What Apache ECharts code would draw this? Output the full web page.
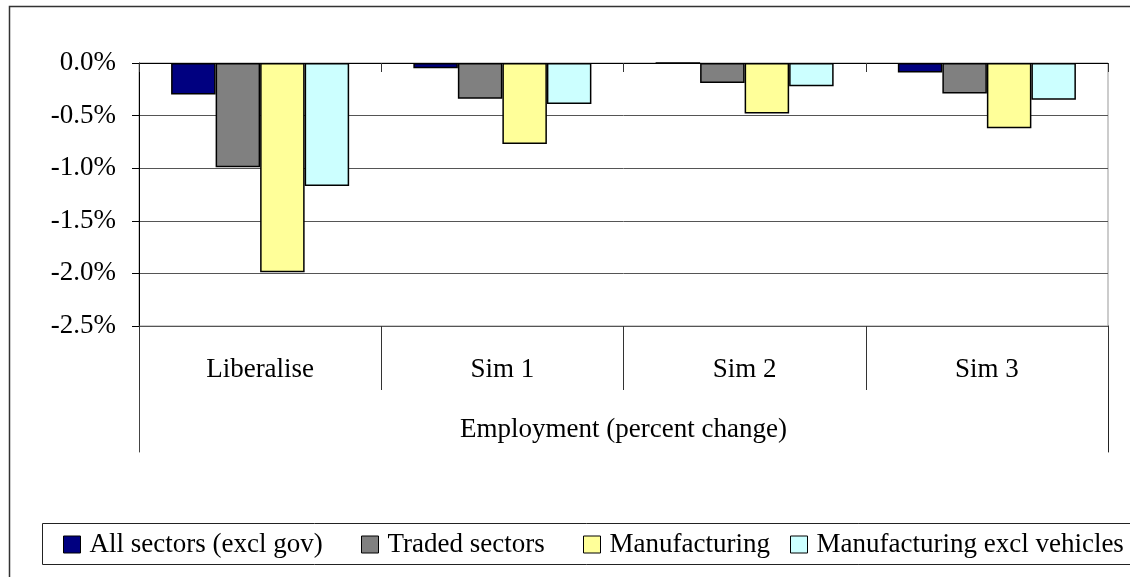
<!DOCTYPE html>
<html>
<head>
<meta charset="utf-8">
<title>Employment (percent change)</title>
<script src="https://cdn.jsdelivr.net/npm/echarts@6/dist/echarts.min.js"></script>
<style>
  html, body { margin: 0; padding: 0; background: #fff; }
  #chart { width: 1130px; height: 577px; }
</style>
</head>
<body>
<div id="chart"></div>
<script>
// data
var categories = ['Liberalise', 'Sim 1', 'Sim 2', 'Sim 3'];
var groupLabel = 'Employment (percent change)';
var seriesNames = ['All sectors (excl gov)', 'Traded sectors', 'Manufacturing', 'Manufacturing excl vehicles'];
var allSectors = [-0.30, -0.05, 0, -0.09];
var tradedSectors = [-0.99, -0.34, -0.19, -0.29];
var manufacturing = [-1.99, -0.77, -0.48, -0.62];
var mfgExclVehicles = [-1.17, -0.39, -0.22, -0.35];

var colors = ['#000080', '#808080', '#ffff99', '#ccffff'];
var seriesData = [allSectors, tradedSectors, manufacturing, mfgExclVehicles];
var legendLeft = [63, 361, 583, 790];
var font = "'Liberation Serif', 'Times New Roman', serif";

var chart = echarts.init(document.getElementById('chart'));

var series = seriesNames.map(function (name, i) {
  return {
    name: name,
    type: 'bar',
    xAxisIndex: 0,
    yAxisIndex: 0,
    data: seriesData[i],
    barGap: '0%',
    barCategoryGap: '26.5%',
    itemStyle: { color: colors[i], borderColor: '#000', borderWidth: 1.5 },
    emphasis: { disabled: true },
    animation: false
  };
});

// one legend per entry so each sits where Excel put it
var legends = seriesNames.map(function (name, i) {
  return {
    data: [{ name: name, icon: 'rect' }],
    left: legendLeft[i],
    top: 531,
    padding: 0,
    itemWidth: 17,
    itemHeight: 17,
    selectedMode: false,
    itemStyle: { borderColor: '#000', borderWidth: 1 },
    textStyle: { fontFamily: font, fontSize: 27, color: '#000', padding: [0, 0, 0, 4] }
  };
});

var option = {
  animation: false,
  textStyle: { fontFamily: font },
  graphic: [
    { type: 'rect', shape: { x: 9.5, y: 6.5, width: 1200, height: 600 }, style: { fill: 'none', stroke: '#333', lineWidth: 1.5 }, silent: true },
    { type: 'rect', shape: { x: 42.5, y: 523.5, width: 1200, height: 41 }, style: { fill: 'none', stroke: '#222', lineWidth: 1 }, silent: true }
  ],
  legend: legends,
  grid: [
    { left: 139, right: 22, top: 63, bottom: 251, show: true, borderColor: '#999', borderWidth: 1, containLabel: false },
    { left: 139, right: 22, top: 326, bottom: 125, containLabel: false }
  ],
  xAxis: [
    {
      type: 'category', gridIndex: 0, data: categories, position: 'top',
      axisLine: { show: true, onZero: false, lineStyle: { color: '#000', width: 1 } },
      axisTick: { show: true, inside: true, length: 9, interval: 0, lineStyle: { color: '#333' } },
      axisLabel: { show: false },
      splitLine: { show: false }
    },
    {
      type: 'category', gridIndex: 0, data: categories, position: 'bottom',
      axisLine: { show: false, onZero: false },
      axisTick: { show: true, length: 64, interval: 0, lineStyle: { color: '#333' } },
      axisLabel: { show: true, interval: 0, margin: 30, fontFamily: font, fontSize: 27, color: '#000' },
      name: groupLabel,
      nameLocation: 'middle',
      nameGap: 90,
      nameTextStyle: { fontFamily: font, fontSize: 27, color: '#000' },
      splitLine: { show: false }
    },
    {
      type: 'category', gridIndex: 1, data: [groupLabel], show: false
    }
  ],
  yAxis: [
    {
      type: 'value', gridIndex: 0, min: -2.5, max: 0, interval: 0.5,
      axisLine: { show: true, onZero: false, lineStyle: { color: '#000', width: 1 } },
      axisTick: { show: true, length: 7, lineStyle: { color: '#000' } },
      axisLabel: {
        margin: 23, fontFamily: font, fontSize: 27, color: '#000',
        formatter: function (v) { return (Math.abs(v) < 1e-9 ? 0 : v).toFixed(1) + '%'; }
      },
      splitLine: { show: true, lineStyle: { color: '#555', width: 1 } }
    },
    {
      type: 'value', gridIndex: 1, min: 0, max: 1, position: 'left',
      axisLine: { show: true, onZero: false, lineStyle: { color: '#444', width: 1 } },
      axisTick: { show: false }, axisLabel: { show: false }, splitLine: { show: false }
    },
    {
      type: 'value', gridIndex: 1, min: 0, max: 1, position: 'right',
      axisLine: { show: true, onZero: false, lineStyle: { color: '#222', width: 1 } },
      axisTick: { show: false }, axisLabel: { show: false }, splitLine: { show: false }
    }
  ],
  series: series
};

chart.setOption(option);
</script>
</body>
</html>
